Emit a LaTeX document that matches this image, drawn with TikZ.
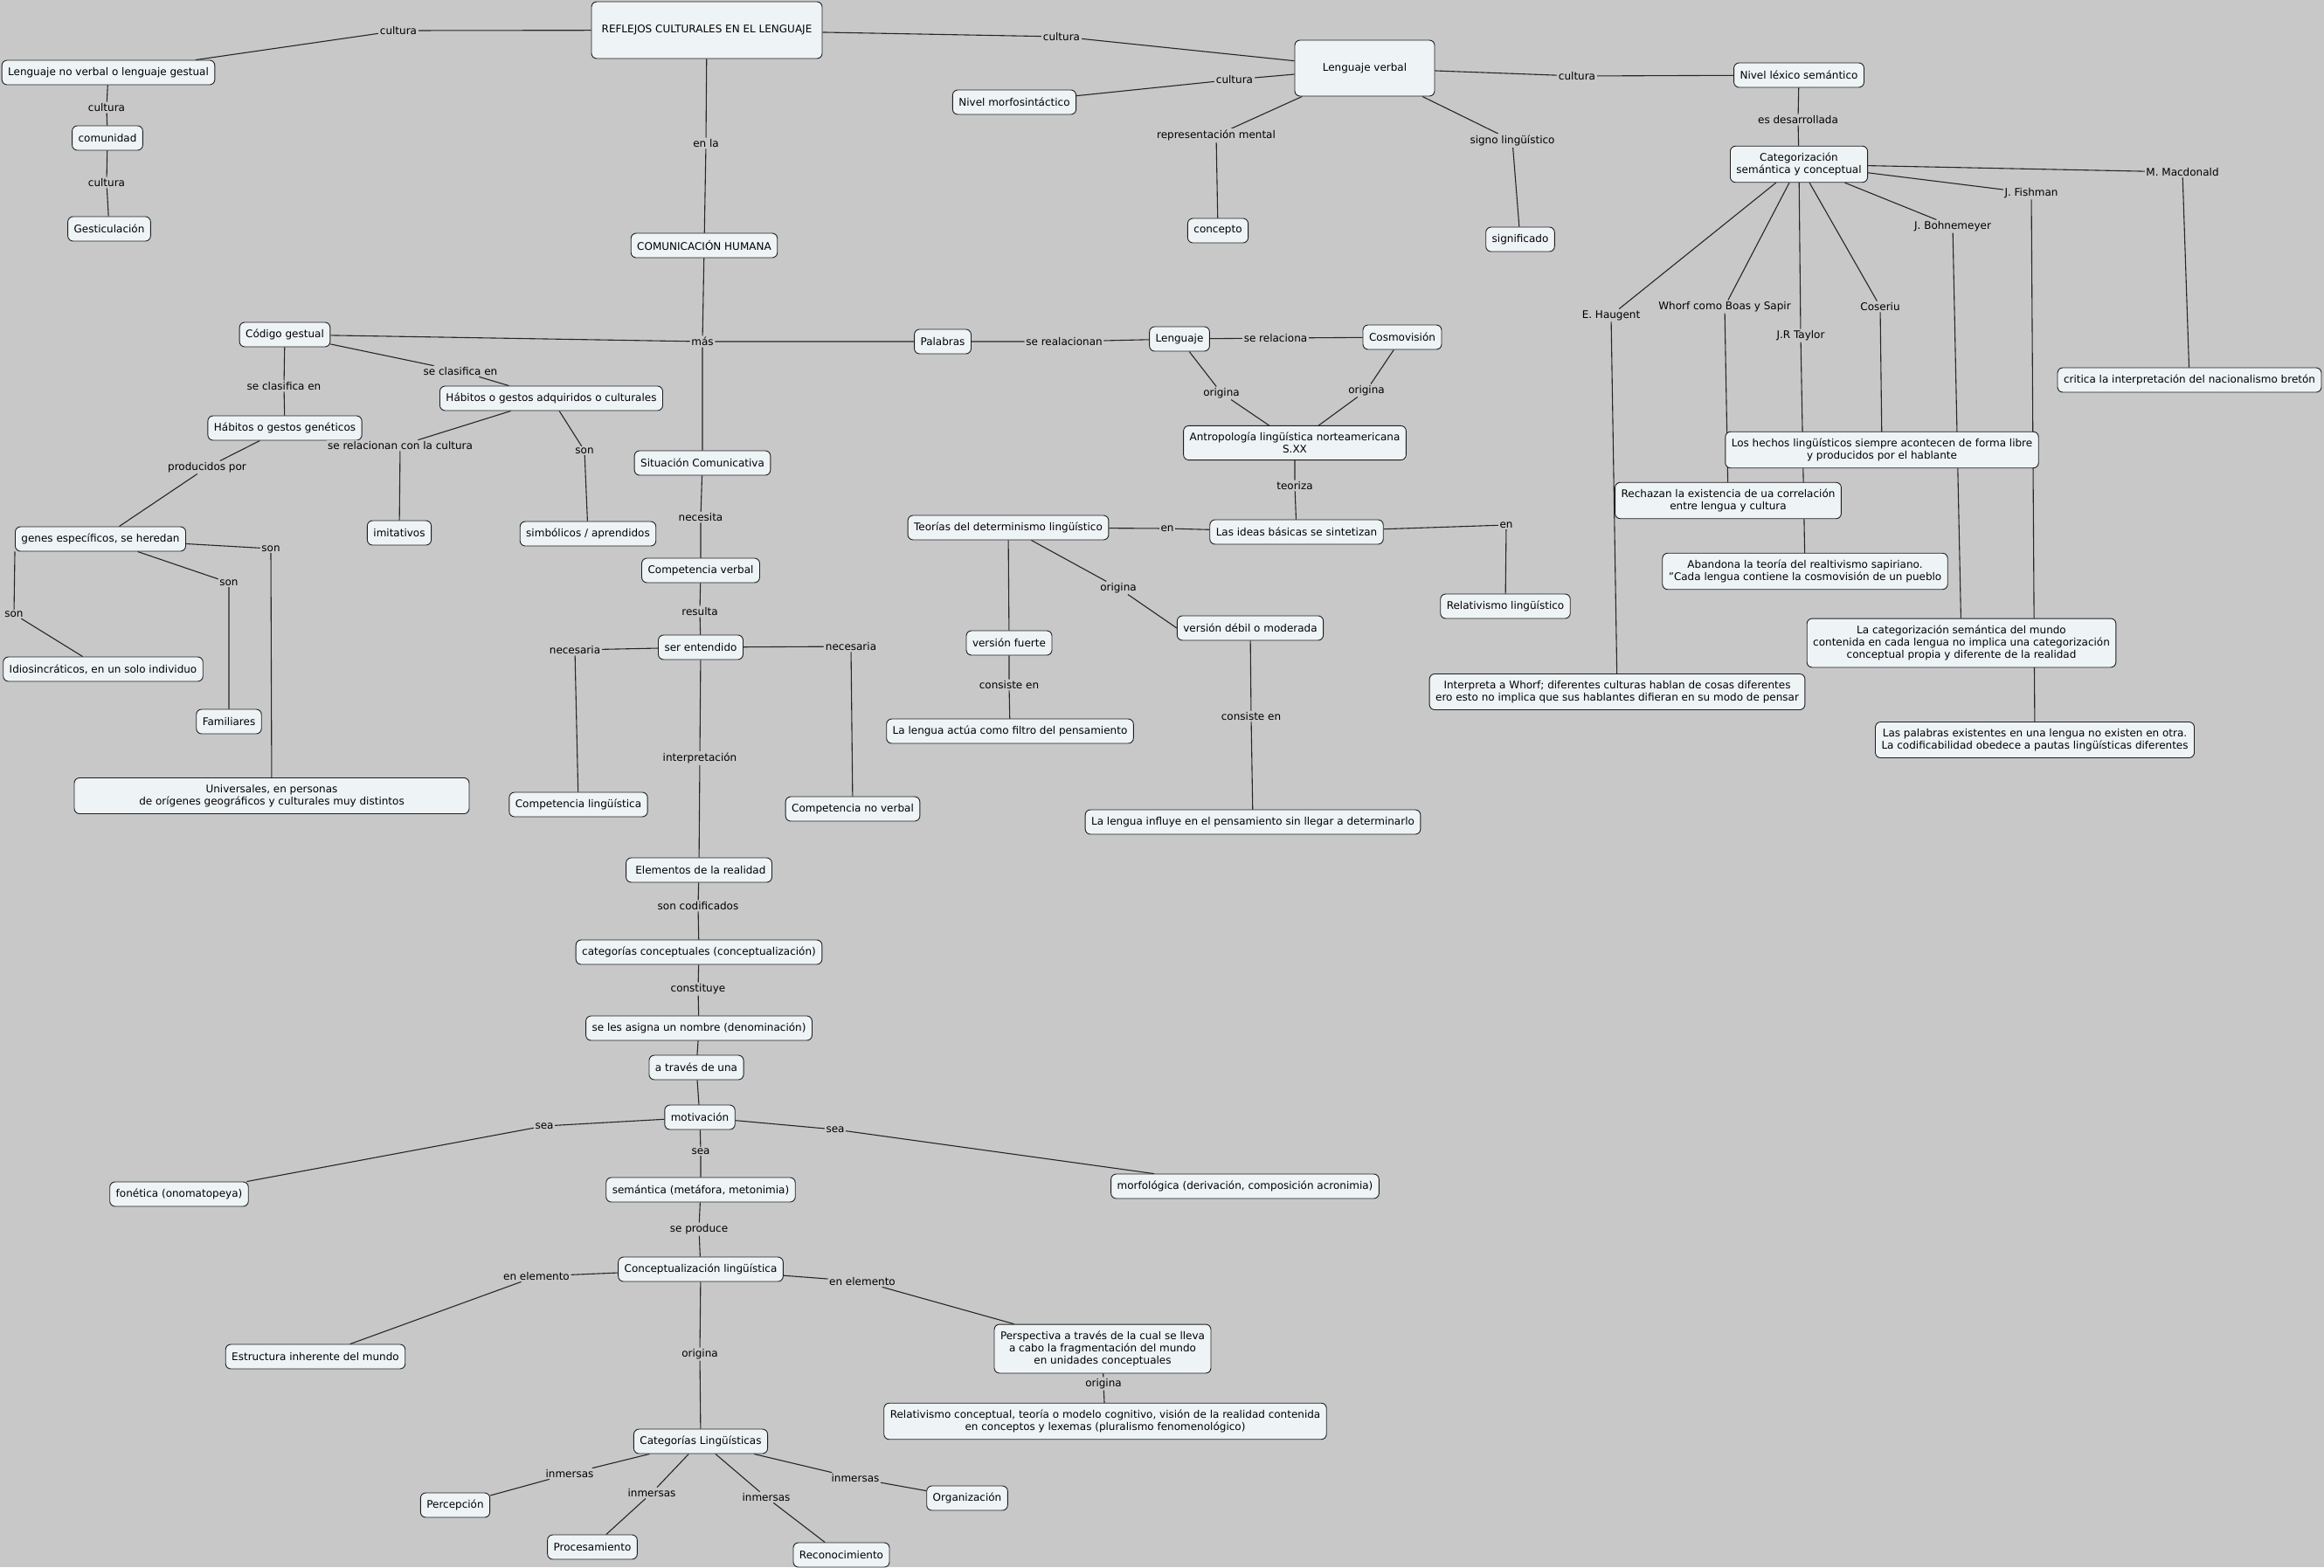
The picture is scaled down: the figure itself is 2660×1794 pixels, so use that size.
\documentclass[tikz,border=0pt]{standalone}
\usepackage{fontspec}
\setmainfont{DejaVu Sans}
\usepackage{xcolor}
\usepackage{tikz}
\usetikzlibrary{positioning}

\definecolor{mapbg}{HTML}{C8C8C8}
\definecolor{boxfill}{HTML}{EEF4F6}
\definecolor{boxline}{HTML}{1E1E1E}
\pgfdeclarelayer{back}
\pgfsetlayers{back,main}

\tikzset{
  cpt/.style={draw=boxline,fill=boxfill,rounded corners=6pt,line width=0.9pt,
    inner xsep=7pt,inner ysep=7.5pt,minimum height=28pt,align=center},
  lnk/.style={fill=mapbg,inner sep=1.5pt},
  ln/.style={draw=black!85,line width=1.1pt}
}

\begin{document}
\begin{tikzpicture}[x=1pt,y=-1pt,font=\fontsize{12}{14.4}\selectfont]
\begin{pgfonlayer}{back}
\fill[mapbg](0,0)rectangle(2660,1794);
\end{pgfonlayer}
\useasboundingbox(0,0)rectangle(2660,1794);

% conceptos
\node[cpt,minimum width=264pt,minimum height=65pt](refl)at(809,34.5){REFLEJOS CULTURALES EN EL LENGUAJE};
\node[cpt](lnv)at(124,83){Lenguaje no verbal o lenguaje gestual};
\node[cpt](comu)at(123,158){comunidad};
\node[cpt](gest)at(125,262){Gesticulación};
\node[cpt](comh)at(806,281){COMUNICACIÓN HUMANA};
\node[cpt,minimum width=160pt,minimum height=64pt](lverb)at(1562,78){Lenguaje verbal};
\node[cpt](morf)at(1161,117){Nivel morfosintáctico};
\node[cpt](conc)at(1394,264){concepto};
\node[cpt](sign)at(1740,274){significado};
\node[cpt](lex)at(2059,86){Nivel léxico semántico};
\node[cpt](categ)at(2059,188){Categorización\\semántica y conceptual};
\node[cpt](crit)at(2506,435){critica la interpretación del nacionalismo bretón};
\node[cpt](codg)at(326,383){Código gestual};
\node[cpt](hadq)at(631,456){Hábitos o gestos adquiridos o culturales};
\node[cpt](hgen)at(326,490){Hábitos o gestos genéticos};
\node[cpt](imit)at(457,610){imitativos};
\node[cpt](simb)at(673,611){simbólicos / aprendidos};
\node[cpt](genes)at(115,617){genes específicos, se heredan};
\node[cpt](idio)at(118,766){Idiosincráticos, en un solo individuo};
\node[cpt](fam)at(262,826){Familiares};
\node[cpt,minimum width=452pt](univ)at(311,911){Universales, en personas\\de orígenes geográficos y culturales muy distintos};
\node[cpt](sitc)at(804,530){Situación Comunicativa};
\node[cpt](cverb)at(802,653){Competencia verbal};
\node[cpt](sent)at(802,741){ser entendido};
\node[cpt](cling)at(662,921){Competencia lingüística};
\node[cpt](cnov)at(976,926){Competencia no verbal};
\node[cpt](elem)at(800,996){\ Elementos de la realidad};
\node[cpt](ccon)at(800,1090){categorías conceptuales (conceptualización)};
\node[cpt](asig)at(800,1177){se les asigna un nombre (denominación)};
\node[cpt](atrav)at(797,1222){a través de una};
\node[cpt](motiv)at(801,1279){motivación};
\node[cpt](fon)at(205,1367){fonética (onomatopeya)};
\node[cpt](sem)at(802,1362){semántica (metáfora, metonimia)};
\node[cpt](morfo)at(1425,1358){morfológica (derivación, composición acronimia)};
\node[cpt](concl)at(802,1453){Conceptualización lingüística};
\node[cpt](estr)at(361,1553){Estructura inherente del mundo};
\node[cpt](persp)at(1262,1544){Perspectiva a través de la cual se lleva\\a cabo la fragmentación del mundo\\en unidades conceptuales};
\node[cpt](relc)at(1265,1627){Relativismo conceptual, teoría o modelo cognitivo, visión de la realidad contenida\\en conceptos y lexemas (pluralismo fenomenológico)};
\node[cpt](catl)at(802,1650){Categorías Lingüísticas};
\node[cpt](perc)at(521,1723){Percepción};
\node[cpt](proc)at(678,1771){Procesamiento};
\node[cpt](reco)at(963,1780){Reconocimiento};
\node[cpt](orga)at(1107,1715){Organización};
\node[cpt](pal)at(1079,391){Palabras};
\node[cpt](leng)at(1350,388){Lenguaje};
\node[cpt](cosm)at(1605,386){Cosmovisión};
\node[cpt](antr)at(1482,507){Antropología lingüística norteamericana\\S.XX};
\node[cpt](ideas)at(1484,609){Las ideas básicas se sintetizan};
\node[cpt](teor)at(1154,604){Teorías del determinismo lingüístico};
\node[cpt](rell)at(1723,694){Relativismo lingüístico};
\node[cpt](vfue)at(1155,736){versión fuerte};
\node[cpt](vdeb)at(1431,719){versión débil o moderada};
\node[cpt](filt)at(1156,837){La lengua actúa como filtro del pensamiento};
\node[cpt](infl)at(1434,941){La lengua influye en el pensamiento sin llegar a determinarlo};
\node[cpt](hech)at(2154,515){Los hechos lingüísticos siempre acontecen de forma libre\\y producidos por el hablante};
\node[cpt](rech)at(1978,573){Rechazan la existencia de ua correlación\\entre lengua y cultura};
\node[cpt](aban)at(2066,654){Abandona la teoría del realtivismo sapiriano.\\"Cada lengua contiene la cosmovisión de un pueblo};
\node[cpt](catm)at(2245,736){La categorización semántica del mundo\\contenida en cada lengua no implica una categorización\\conceptual propia y diferente de la realidad};
\node[cpt](whorf)at(1851,792){Interpreta a Whorf; diferentes culturas hablan de cosas diferentes\\ero esto no implica que sus hablantes difieran en su modo de pensar};
\node[cpt](palx)at(2329,847){Las palabras existentes en una lengua no existen en otra.\\La codificabilidad obedece a pautas lingüísticas diferentes};

% frases de enlace
\node[lnk](cu1)at(456,35){cultura};
\node[lnk](cu2)at(122,123){cultura};
\node[lnk](cu3)at(122,209){cultura};
\node[lnk](cu4)at(1215,42){cultura};
\node[lnk](cu5)at(1413,91){cultura};
\node[lnk](cu6)at(1805,87){cultura};
\node[lnk](repm)at(1392,155){representación mental};
\node[lnk](sigl)at(1731,161){signo lingüístico};
\node[lnk](esdes)at(2058,137){es desarrollada};
\node[lnk](enla)at(808,164){en la};
\node[lnk](mas)at(804,391){más};
\node[lnk](clas1)at(527,425){se clasifica en};
\node[lnk](clas2)at(325,442){se clasifica en};
\node[lnk](relc1)at(458,510){se relacionan con la cultura};
\node[lnk](son1)at(669,516){son};
\node[lnk](prod)at(237,535){producidos por};
\node[lnk](son2)at(310,628){son};
\node[lnk](son3)at(262,667){son};
\node[lnk](son4)at(16,703){son};
\node[lnk](real)at(1218,391){se realacionan};
\node[lnk](rela)at(1460,387){se relaciona};
\node[lnk](ori1)at(1398,450){origina};
\node[lnk](ori2)at(1564,447){origina};
\node[lnk](teo)at(1482,556){teoriza};
\node[lnk](en1)at(1336,605){en};
\node[lnk](en2)at(1724,601){en};
\node[lnk](ori3)at(1280,673){origina};
\node[lnk](cons1)at(1155,784){consiste en};
\node[lnk](cons2)at(1432,820){consiste en};
\node[lnk](nec)at(802,592){necesita};
\node[lnk](res)at(801,700){resulta};
\node[lnk](nria1)at(658,744){necesaria};
\node[lnk](nria2)at(974,740){necesaria};
\node[lnk](interp)at(801,868){interpretación};
\node[lnk](codif)at(799,1037){son codificados};
\node[lnk](const)at(799,1132){constituye};
\node[lnk](sea1)at(623,1289){sea};
\node[lnk](sea2)at(956,1293){sea};
\node[lnk](sea3)at(802,1318){sea};
\node[lnk](sprod)at(800,1407){se produce};
\node[lnk](elm1)at(614,1461){en elemento};
\node[lnk](elm2)at(987,1467){en elemento};
\node[lnk](ori4)at(801,1550){origina};
\node[lnk](ori5)at(1263,1584){origina};
\node[lnk](inm1)at(652,1687){inmersas};
\node[lnk](inm2)at(746,1709){inmersas};
\node[lnk](inm3)at(877,1714){inmersas};
\node[lnk](inm4)at(979,1692){inmersas};
\node[lnk](hau)at(1844,361){E. Haugent};
\node[lnk](wbs)at(1974,351){Whorf como Boas y Sapir};
\node[lnk](jrt)at(2061,384){J.R Taylor};
\node[lnk](cos)at(2152,351){Coseriu};
\node[lnk](boh)at(2235,259){J. Bohnemeyer};
\node[lnk](fis)at(2325,221){J. Fishman};
\node[lnk](mac)at(2498,197){M. Macdonald};

\begin{pgfonlayer}{back}
\draw[ln](refl)--(cu1)--(lnv) (lnv)--(cu2)--(comu)--(cu3)--(gest);
\draw[ln](refl)--(cu4)--(lverb) (lverb)--(cu5)--(morf) (lverb)--(cu6)--(lex);
\draw[ln](lverb)--(repm)--(conc) (lverb)--(sigl)--(sign);
\draw[ln](lex)--(esdes)--(categ);
\draw[ln](categ)--(hau)--(whorf) (categ)--(wbs)--(rech) (categ)--(jrt)--(aban);
\draw[ln](categ)--(cos)--(hech) (categ)--(boh)--(catm) (categ)--(fis)--(palx);
\draw[ln](categ)--(mac)--(crit);
\draw[ln](refl)--(enla)--(comh)--(mas);
\draw[ln](mas)--(codg) (mas)--(pal) (mas)--(sitc);
\draw[ln](codg)--(clas1)--(hadq) (codg)--(clas2)--(hgen);
\draw[ln](hadq)--(relc1)--(imit) (hadq)--(son1)--(simb);
\draw[ln](hgen)--(prod)--(genes);
\draw[ln](genes)--(son2)--(univ) (genes)--(son3)--(fam);
\draw[ln](genes.south west)--(son4)--(idio);
\draw[ln](pal)--(real)--(leng)--(rela)--(cosm);
\draw[ln](leng)--(ori1)--(antr) (cosm)--(ori2)--(antr);
\draw[ln](antr)--(teo)--(ideas);
\draw[ln](teor)--(en1)--(ideas)--(en2)--(rell);
\draw[ln](teor)--(vfue) (teor)--(ori3)--(vdeb.west);
\draw[ln](vfue)--(cons1)--(filt) (vdeb)--(cons2)--(infl);
\draw[ln](sitc)--(nec)--(cverb)--(res)--(sent);
\draw[ln](sent)--(nria1)--(cling) (sent)--(nria2)--(cnov);
\draw[ln](sent)--(interp)--(elem)--(codif)--(ccon)--(const)--(asig)--(atrav)--(motiv);
\draw[ln](motiv)--(sea1)--(fon) (motiv)--(sea2)--(morfo) (motiv)--(sea3)--(sem);
\draw[ln](sem)--(sprod)--(concl);
\draw[ln](concl)--(elm1)--(estr) (concl)--(elm2)--(persp)--(ori5)--(relc);
\draw[ln](concl)--(ori4)--(catl);
\draw[ln](catl)--(inm1)--(perc) (catl)--(inm2)--(proc);
\draw[ln](catl)--(inm3)--(reco) (catl)--(inm4)--(orga);
\end{pgfonlayer}
\end{tikzpicture}
\end{document}
